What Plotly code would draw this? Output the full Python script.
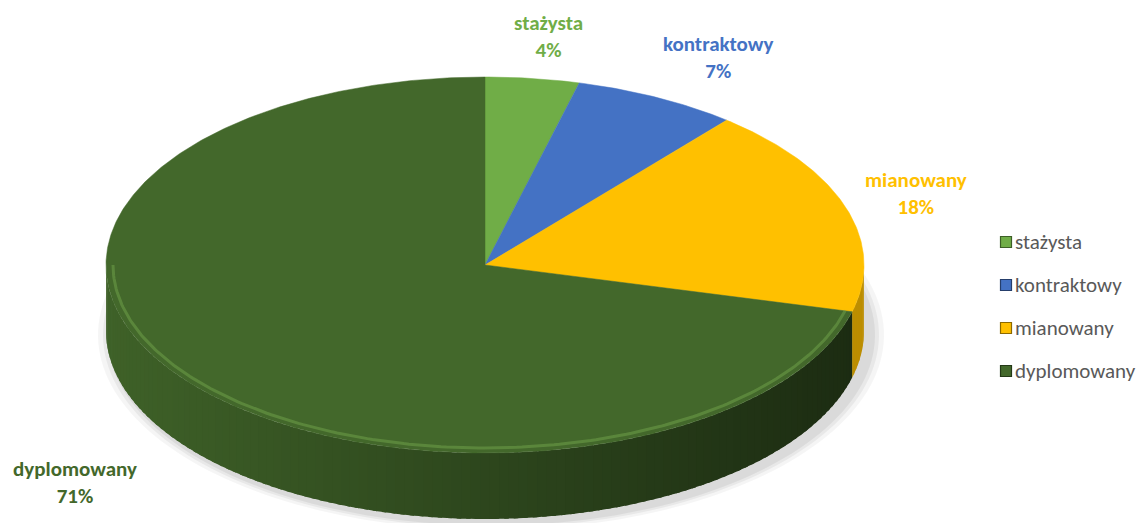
import numpy as np
import plotly.graph_objects as go

categories = ["stażysta", "kontraktowy", "mianowany", "dyplomowany"]
values = [4, 7, 18, 71]
colors = ["#70AD47", "#4472C4", "#FFC000", "#43682B"]
label_colors = ["#70AD47", "#4472C4", "#FFC000", "#43682B"]

W, H = 1141, 523
CX, CY = 485, 265
RX, RY = 379, 188
DEPTH = 66
FONT = "Carlito, Calibri, Lato, sans-serif"


def hex_rgb(h):
    h = h.lstrip("#")
    return tuple(int(h[i:i + 2], 16) for i in (0, 2, 4))


def shade(h, f):
    r, g, b = hex_rgb(h)
    return "rgb(%d,%d,%d)" % (min(255, r * f), min(255, g * f), min(255, b * f))


def pt(theta, dy=0.0):
    return CX + RX * np.sin(theta), CY - RY * np.cos(theta) + dy


fig = go.Figure()

# soft shadow
for grow, alpha in [(14, 0.04), (9, 0.05), (5, 0.06)]:
    t = np.linspace(0, 2 * np.pi, 200)
    xs = CX + 6 + (RX + grow) * np.sin(t)
    ys = CY + DEPTH + 4 - (RY + grow * 0.5) * np.cos(t)
    fig.add_trace(go.Scatter(x=xs, y=ys, fill="toself", mode="none",
                             fillcolor="rgba(0,0,0,%.2f)" % alpha,
                             hoverinfo="skip", showlegend=False))

total = float(sum(values))
bounds = np.cumsum([0] + values) / total * 2 * np.pi

# side walls (front half only: pi/2 .. 3pi/2)
for i, (a0, a1) in enumerate(zip(bounds[:-1], bounds[1:])):
    s0, s1 = max(a0, np.pi / 2), min(a1, 3 * np.pi / 2)
    if s1 <= s0:
        continue
    n = max(2, int((s1 - s0) / 0.025))
    edges = np.linspace(s0, s1, n + 1)
    for e0, e1 in zip(edges[:-1], edges[1:]):
        e1x = min(e1 + 0.012, s1)
        tt = np.linspace(e0, e1x, 4)
        mid = 0.5 * (e0 + e1)
        if categories[i] == "mianowany":
            f = 0.74
        else:
            f = 0.68 - 0.26 * np.sin(mid)
        xt, yt = pt(tt)
        xb, yb = pt(tt[::-1], DEPTH)
        fig.add_trace(go.Scatter(
            x=np.concatenate([xt, xb, xt[:1]]),
            y=np.concatenate([yt, yb, yt[:1]]),
            fill="toself", mode="none",
            fillcolor=shade(colors[i], f), hoverinfo="skip", showlegend=False))

# top faces
for i, (a0, a1) in enumerate(zip(bounds[:-1], bounds[1:])):
    tt = np.linspace(a0, a1, max(3, int((a1 - a0) / 0.01)))
    xe, ye = pt(tt)
    xs = np.concatenate([[CX], xe, [CX]])
    ys = np.concatenate([[CY], ye, [CY]])
    fig.add_trace(go.Scatter(
        x=xs, y=ys, fill="toself", mode="lines",
        line=dict(width=0.5, color=colors[i]), fillcolor=colors[i],
        name=categories[i], text=["%s: %d%%" % (categories[i], values[i])] * len(xs),
        hoverinfo="text", showlegend=False))

# bevel highlight along the front rim
tt = np.linspace(np.pi * 0.58, np.pi * 1.5, 200)
xh, yh = CX + (RX - 7) * np.sin(tt), CY - (RY - 5) * np.cos(tt)
fig.add_trace(go.Scatter(x=xh, y=yh, mode="lines",
                         line=dict(color="rgba(120,170,80,0.45)", width=3),
                         hoverinfo="skip", showlegend=False))

# legend (drawn manually to match spacing)
leg_x, leg_y0, leg_dy = 1006, 242, 43
leg_ys = [leg_y0 + k * leg_dy for k in range(len(categories))]
fig.add_trace(go.Scatter(
    x=[leg_x] * len(categories), y=leg_ys, mode="markers",
    marker=dict(symbol="square", size=11, color=colors,
                line=dict(color=[shade(c, 0.55) for c in colors], width=1.2)),
    hoverinfo="skip", showlegend=False))
for k, c in enumerate(categories):
    fig.add_annotation(x=leg_x + 7, y=leg_ys[k], xref="x", yref="y", text=c,
                       showarrow=False, xanchor="left", yanchor="middle",
                       font=dict(family=FONT, size=21, color="#595959"))

# data labels
label_pos = [(548, 36), (718, 57), (916, 193), (75, 482)]
for i, c in enumerate(categories):
    fig.add_annotation(
        x=label_pos[i][0], y=label_pos[i][1], xref="x", yref="y",
        text="<b>%s<br>%d%%</b>" % (c, values[i]), showarrow=False,
        font=dict(family=FONT, size=21, color=label_colors[i]),
        align="center", yanchor="middle")

fig.update_layout(
    width=W, height=H, margin=dict(l=0, r=0, t=0, b=0),
    paper_bgcolor="white", plot_bgcolor="white",
    xaxis=dict(range=[0, W], visible=False, fixedrange=True),
    yaxis=dict(range=[H, 0], visible=False, fixedrange=True),
    showlegend=False,
)

fig.write_html("out.html", config={"displayModeBar": False},
               post_script="document.body.style.margin='0';document.body.style.overflow='hidden';")
